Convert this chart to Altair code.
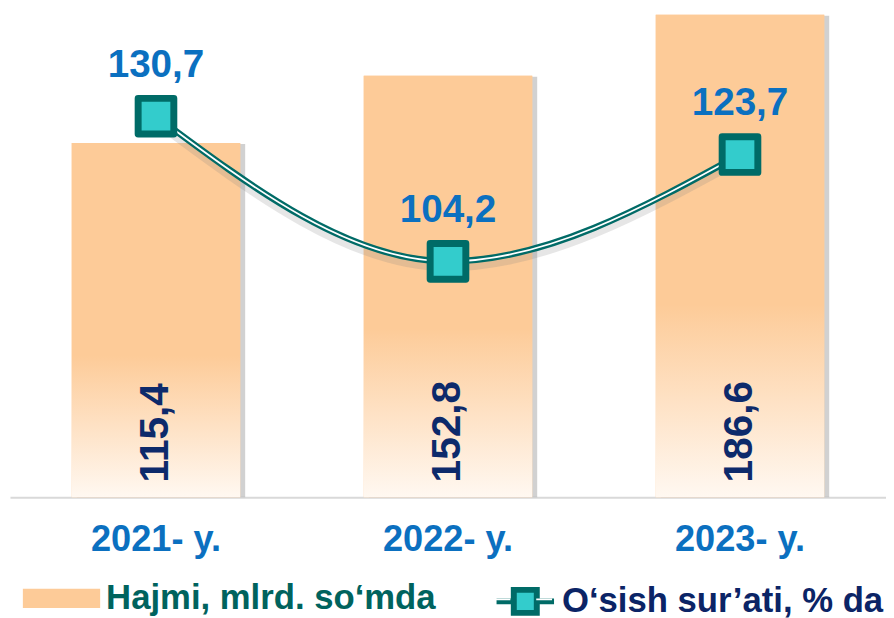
import altair as alt
import pandas as pd

years = ["2021- y.", "2022- y.", "2023- y."]
volume = [115.4, 152.8, 186.6]
volume_text = ["115,4", "152,8", "186,6"]
growth = [130.7, 104.2, 123.7]
growth_text = ["130,7", "104,2", "123,7"]
series_bar = "Hajmi, mlrd. so‘mda"
series_line = "O‘sish sur’ati, % da"

df = pd.DataFrame({
    "year": years, "vol": volume, "vol_t": volume_text,
    "gro": growth, "gro_t": growth_text,
    "s1": series_bar, "s2": series_line, "s3": "inner",
})

FONT = "Liberation Sans"
VOL_MIN, VOL_MAX = -81.1, 187.7
GRO_MIN, GRO_MAX = 61.1, 149.6
TEAL = "#006B67"
TURQ = "#33CCCC"
BLUE = "#0B70C0"
NAVY = "#0D2A6B"
LINE_SYMBOL = "M-1,0H-0.45M0.45,0H1M-0.4,-0.4H0.4V0.4H-0.4Z"

x = alt.X("year:N", sort=years,
          scale=alt.Scale(paddingInner=0.423, paddingOuter=0.2115),
          axis=alt.Axis(title=None, labelAngle=0, labelFont=FONT, labelFontSize=36.5,
                        labelFontWeight="bold", labelColor=BLUE, domainColor="#D9D9D9",
                        domainWidth=2, ticks=False, labelPadding=25, grid=False))

vscale = alt.Scale(domain=[VOL_MIN, VOL_MAX], nice=False, zero=False)
gscale = alt.Scale(domain=[GRO_MIN, GRO_MAX], nice=False, zero=False)
yv = alt.Y("vol:Q", scale=vscale, axis=None)
yg = alt.Y("gro:Q", scale=gscale, axis=None)

grad = alt.Gradient(gradient="linear", x1=0, x2=0, y1=0, y2=1, stops=[
    alt.GradientStop(color="#FDCB98", offset=0),
    alt.GradientStop(color="#FDCB98", offset=0.6),
    alt.GradientStop(color="#FFF8F1", offset=1),
])

base = alt.Chart(df)

bar_shadow = base.mark_bar(color="#8c8c8c", opacity=0.4, xOffset=5, yOffset=1).encode(
    x=x, y=yv, y2=alt.datum(VOL_MIN))

bar_legend = base.mark_bar().encode(
    x=x, y=yv, y2=alt.datum(VOL_MIN),
    fill=alt.Fill("s1:N", scale=alt.Scale(range=["#FDCB98"]),
                  legend=alt.Legend(title=None, orient="none", legendX=13, legendY=552,
                                    symbolType="M-1,-0.25H1V0.25H-1Z", symbolSize=6084,
                                    symbolStrokeWidth=0, symbolOpacity=1,
                                    labelFont=FONT, labelFontSize=35, labelFontWeight="bold",
                                    labelColor="#00635E", labelLimit=600, labelOffset=6,
                                    padding=0)))

bars = base.mark_bar(fill=grad).encode(x=x, y=yv, y2=alt.datum(VOL_MIN))

line_shadow = base.mark_line(interpolate="monotone", color="#808080", strokeWidth=8,
                             opacity=0.2, yOffset=6).encode(x=x, y=yg)

line_outer = base.mark_line(interpolate="monotone", strokeWidth=6.5).encode(
    x=x, y=yg,
    stroke=alt.Stroke("s2:N", scale=alt.Scale(range=[TEAL]),
                      legend=alt.Legend(title=None, orient="none", legendX=488, legendY=562,
                                        symbolType=LINE_SYMBOL,
                                        symbolSize=3364, symbolStrokeWidth=6,
                                        symbolFillColor=TURQ, symbolOpacity=1,
                                        labelFont=FONT, labelFontSize=35, labelFontWeight="bold",
                                        labelColor="#0B2466", labelLimit=600, labelOffset=5,
                                        padding=0)))

line_inner = base.mark_line(interpolate="monotone", color="white", strokeWidth=1.8).encode(
    x=x, y=yg,
    opacity=alt.Opacity("s3:N", scale=alt.Scale(range=[1]),
                        legend=alt.Legend(title=None, orient="none", legendX=488, legendY=562,
                                          symbolType="M-1,0H-0.45M0.45,0H1",
                                          symbolSize=3364, symbolStrokeWidth=1.8,
                                          symbolStrokeColor="white", symbolOpacity=1,
                                          labelExpr="''", labelFontSize=1, padding=0)))

points = base.mark_point(shape="square", filled=True, fill=TURQ, stroke=TEAL, strokeWidth=7,
                         size=1296, opacity=1, strokeJoin="round").encode(x=x, y=yg)

gro_labels = base.mark_text(font=FONT, fontSize=39, fontWeight="bold", color=BLUE,
                            baseline="middle", dy=-52).encode(x=x, y=yg, text="gro_t:N")

vol_labels = base.mark_text(font=FONT, fontSize=41, fontWeight="bold", color=NAVY, angle=270,
                            align="left", baseline="middle", dx=15).encode(
    x=x, y=alt.YDatum(VOL_MIN, type="quantitative", scale=vscale, axis=None), text="vol_t:N")

chart = alt.layer(
    bar_shadow, bar_legend, bars, line_shadow, line_outer, line_inner, points,
    gro_labels, vol_labels
).resolve_scale(y="independent").properties(
    width=884, height=489,
    padding={"left": 2, "top": 2, "right": 0, "bottom": 119},
    autosize=alt.AutoSizeParams(type="none"),
    background="white",
).configure_view(stroke=None)

chart.save("out.html", embed_options={"renderer": "svg", "actions": False})
